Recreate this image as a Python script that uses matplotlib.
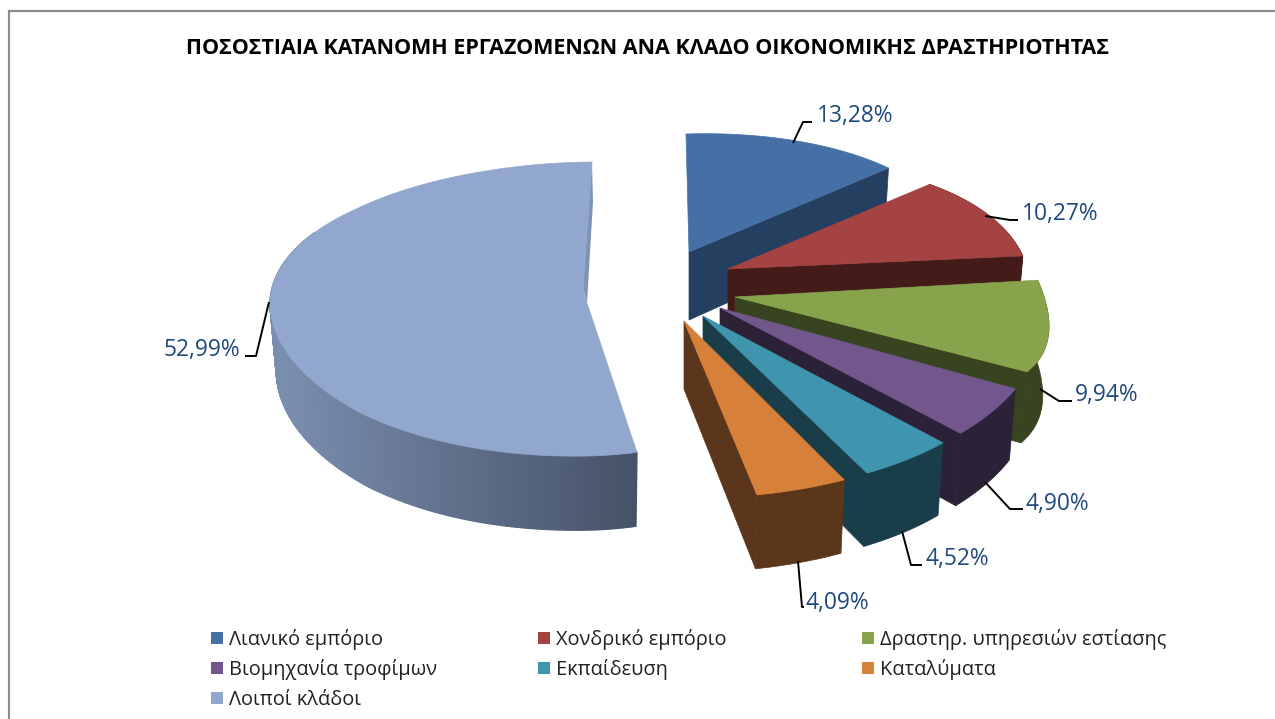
"""
Exploded 3D style pie, drawn by hand in pixel space
"""

import numpy as np
import matplotlib
matplotlib.use("Agg")
import matplotlib.pyplot as plt
from matplotlib.collections import PolyCollection
from matplotlib.patches import Polygon, Rectangle

title = "ΠΟΣΟΣΤΙΑΙΑ ΚΑΤΑΝΟΜΗ ΕΡΓΑΖΟΜΕΝΩΝ ΑΝΑ ΚΛΑΔΟ ΟΙΚΟΝΟΜΙΚΗΣ ΔΡΑΣΤΗΡΙΟΤΗΤΑΣ"

categories = ["Λιανικό εμπόριο", "Χονδρικό εμπόριο", "Δραστηρ. υπηρεσιών εστίασης",
              "Βιομηχανία τροφίμων", "Εκπαίδευση", "Καταλύματα", "Λοιποί κλάδοι"]
values = [13.28, 10.27, 9.94, 4.90, 4.52, 4.09, 52.99]

topColors = ["#4470A6", "#A44341", "#87A44C", "#72578C", "#3F95AD", "#D7803A", "#92A7CD"]
sideColors = ["#243F60", "#451B19", "#38431F", "#2C2238", "#1A3D4A", "#5C361A", "#7A8EAF"]

# slice tip, and radii at the start and the end of each slice
tips = [(689, 252), (728, 269), (735, 297), (720, 308), (703, 316), (684, 321), (587, 303)]
radX = [(272, 272), (272, 296), (304, 339), (343, 361), (360, 381), (372, 390)]
radY = [(118, 125), (126, 144), (185, 147), (159, 168), (170, 174), (176, 177)]
skew = [-3, 0, 0, 0, 0, 0, 5]

# label text position, and leader line
labelPos = [(817, 116), (1022, 214), (1075, 395), (1026, 504), (925, 559), (806, 603), (240, 350)]
leaders = [[(793, 143), (803, 122), (812, 122)],
           [(985, 216), (1010, 220), (1018, 220)],
           [(1040, 389), (1059, 401), (1072, 401)],
           [(985, 482), (1010, 509), (1023, 509)],
           [(902, 531), (911, 565), (922, 565)],
           [(798, 561), (802, 607), (804, 607)],
           [(269, 302), (256, 356), (245, 356)]]

legendX = [211, 538, 862]
legendY = [640, 670, 700]

labelColor = "#1F497D"
kx = 0.98


def rim(i, t, t0, t1):
    # outer edge of slice i, t in degrees clockwise from the top
    r = np.radians(t)
    if i == 6:
        rx = np.where(t < 180, 267, 317)
        ry = np.interp(t, [t0, 200, 225, 250, 270, 290, 312, 340, 360],
                       [152, 155, 157, 154, 149, 143, 139.5, 140, 141])
    else:
        rx = np.interp(t, [t0, t1], radX[i])
        ry = np.interp(t, [t0, t1], radY[i])
    dx = rx * np.sin(r) + skew[i] * np.maximum(np.cos(r), 0)
    dy = -ry * np.cos(r)
    return dx, dy


def depth(t):
    return 68 - 6 * np.cos(np.radians(t))


plt.rcParams['font.family'] = ['Open Sans', 'DejaVu Sans']

figure = plt.figure(figsize=(12.75, 7.19), dpi=100)
axis = figure.add_axes([0, 0, 1, 1])
axis.set_xlim(0, 1275)
axis.set_ylim(719, 0)
axis.axis('off')

# chart frame
axis.plot([9, 9, 1275], [719, 11, 11], color="#8C8C8C", lw=1.6, solid_joinstyle='miter')

axis.text(648, 49, title, ha='center', va='center', fontsize=15.45, fontweight='bold', color='black')

edges = np.concatenate([[0], np.cumsum(values)]) * 360.0 / sum(values)

# big slice first, then the others from back to front
for i in [6, 0, 1, 2, 3, 4, 5]:
    t0, t1 = edges[i], edges[i + 1]
    t = np.linspace(t0, t1, 400)
    tx, ty = tips[i]
    dx, dy = rim(i, t, t0, t1)
    xTop, yTop = tx + dx, ty + dy
    xBot, yBot = tx + kx * dx, ty + dy + depth(t)

    if i == 6:
        # shaded outer wall, lighter to the left
        keep = t < 300
        quads = []
        shades = []
        for k in np.nonzero(keep)[0][:-1]:
            quads.append([(xTop[k], yTop[k]), (xTop[k + 1], yTop[k + 1]),
                          (xBot[k + 1], yBot[k + 1]), (xBot[k], yBot[k])])
            f = np.clip((xTop[k] - 278) / (637 - 278), 0, 1)
            shades.append(tuple(np.array([122, 142, 175]) * (1 - f) / 255 + np.array([70, 82, 103]) * f / 255))
        axis.add_collection(PolyCollection(quads, facecolors=shades, edgecolors=shades, linewidths=1.0))

        # thin inner wall at the back
        notch = (tx - 4, ty - 16)
        axis.add_patch(Polygon([(xTop[-1], yTop[-1]), (xTop[-1] + 1, yTop[-1] + 40), (tx, ty), notch],
                               closed=True, fc="#7F93B5", ec="none"))
        outline = list(zip(xTop, yTop)) + [notch, (tx, ty)]
    else:
        # outer wall and the cut face that looks at the viewer
        if i > 0:
            axis.add_patch(Polygon(list(zip(xTop, yTop)) + list(zip(xBot[::-1], yBot[::-1])),
                                   closed=True, fc=sideColors[i], ec=sideColors[i], lw=0.5))
        axis.add_patch(Polygon([(tx, ty), (xTop[-1], yTop[-1]), (xBot[-1], yBot[-1]), (tx, ty + depth(90))],
                               closed=True, fc=sideColors[i], ec=sideColors[i], lw=0.5))
        outline = [(tx, ty)] + list(zip(xTop, yTop))

    axis.add_patch(Polygon(outline, closed=True, fc=topColors[i], ec=topColors[i], lw=0.5))

# data labels
for i, v in enumerate(values):
    text = ("%.2f%%" % v).replace(".", ",")
    ha = 'right' if i == 6 else 'left'
    axis.text(labelPos[i][0], labelPos[i][1], text, ha=ha, va='center', fontsize=16.4, color=labelColor)
    xs, ys = zip(*leaders[i])
    axis.plot(xs, ys, color='black', lw=1.4, solid_capstyle='butt')

# legend, filled row by row
for i, name in enumerate(categories):
    x = legendX[i % 3]
    y = legendY[i // 3]
    axis.add_patch(Rectangle((x, y - 8), 12, 12, fc=topColors[i], ec="none"))
    axis.text(x + 18, y, name, ha='left', va='center', fontsize=14.4, color='#222222')

figure.savefig('out.png', dpi=100)
